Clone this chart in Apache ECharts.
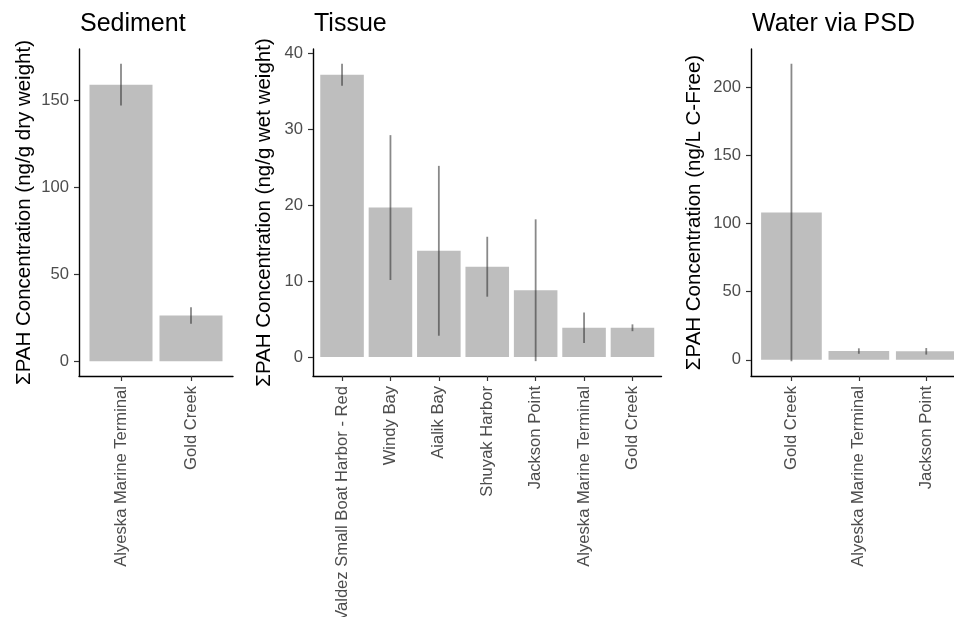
<!DOCTYPE html>
<html>
<head>
<meta charset="utf-8">
<script src="https://cdn.jsdelivr.net/npm/echarts@6/dist/echarts.min.js"></script>
<style>
  html, body { margin: 0; padding: 0; background: #ffffff; }
  #chart { width: 954px; height: 617px; }
</style>
</head>
<body>
<div id="chart"></div>
<script>
// Sum of PAH concentrations by site, mean and standard deviation per matrix
const sedimentSites = ['Alyeska Marine Terminal', 'Gold Creek'];
const sedimentMean = [159.2, 26.3];
const sedimentSd = [12.0, 4.8];

const tissueSites = ['Valdez Small Boat Harbor - Red', 'Windy Bay', 'Aialik Bay', 'Shuyak Harbor',
  'Jackson Point', 'Alyeska Marine Terminal', 'Gold Creek'];
const tissueMean = [37.2, 19.7, 14.0, 11.9, 8.8, 3.85, 3.85];
const tissueSd = [1.45, 9.55, 11.2, 3.95, 9.35, 2.0, 0.45];

const waterSites = ['Gold Creek', 'Alyeska Marine Terminal', 'Jackson Point'];
const waterMean = [108.0, 6.4, 6.2];
const waterSd = [109.0, 2.0, 2.4];

const sedimentTicks = [0, 50, 100, 150];
const tissueTicks = [0, 10, 20, 30, 40];
const waterTicks = [0, 50, 100, 150, 200];

const panelTitles = ['Sediment', 'Tissue', 'Water via PSD'];
const axisTitles = [
  'ΣPAH Concentration (ng/g dry weight)',
  'ΣPAH Concentration (ng/g wet weight)',
  'ΣPAH Concentration (ng/L C-Free)'
];

const FONT = '"Liberation Sans", Arial, Helvetica, sans-serif';

const panels = [
  { sites: sedimentSites, mean: sedimentMean, sd: sedimentSd, ticks: sedimentTicks,
    rect: { left: 79, top: 49, width: 154, height: 327 }, nameGap: 44 },
  { sites: tissueSites, mean: tissueMean, sd: tissueSd, ticks: tissueTicks,
    rect: { left: 313, top: 49, width: 348.5, height: 327 }, nameGap: 38 },
  { sites: waterSites, mean: waterMean, sd: waterSd, ticks: waterTicks,
    rect: { left: 751, top: 49, width: 215.7, height: 327 }, nameGap: 46 }
];

// y extent: bars from zero plus error bars, padded 5% on both ends
function yExtent(mean, sd) {
  let lo = 0, hi = 0;
  mean.forEach((m, i) => {
    lo = Math.min(lo, m - sd[i]);
    hi = Math.max(hi, m + sd[i]);
  });
  const pad = (hi - lo) * 0.05;
  return [lo - pad, hi + pad];
}

function renderBar(params, api) {
  const x = api.value(0);
  const m = api.value(1);
  const lo = api.value(2);
  const hi = api.value(3);
  const a = api.coord([x - 0.45, m]);
  const b = api.coord([x + 0.45, 0]);
  const e0 = api.coord([x, lo]);
  const e1 = api.coord([x, hi]);
  return {
    type: 'group',
    children: [
      { type: 'rect', shape: { x: a[0], y: a[1], width: b[0] - a[0], height: b[1] - a[1] },
        style: { fill: '#bebebe' } },
      { type: 'line', shape: { x1: e0[0], y1: e0[1], x2: e1[0], y2: e1[1] },
        style: { stroke: 'rgba(40,40,40,0.55)', lineWidth: 1.8 } }
    ]
  };
}

const grid = [], xAxis = [], yAxis = [], series = [], title = [];

panels.forEach((p, i) => {
  grid.push(Object.assign({ containLabel: false, outerBoundsMode: 'none' }, p.rect));
  const positions = p.sites.map((_, k) => k + 1);
  xAxis.push({
    type: 'value', gridIndex: i,
    min: 0.4, max: p.sites.length + 0.6,
    splitLine: { show: false },
    axisLine: { show: true, onZero: false, lineStyle: { color: '#000', width: 1.4 } },
    axisTick: { show: true, customValues: positions, length: 5, lineStyle: { color: '#333', width: 1.2 } },
    axisLabel: {
      customValues: positions, rotate: 90, margin: 10,
      color: '#4d4d4d', fontSize: 16.6, fontFamily: FONT,
      formatter: v => p.sites[Math.round(v) - 1] || ''
    }
  });
  const ext = yExtent(p.mean, p.sd);
  yAxis.push({
    type: 'value', gridIndex: i,
    min: ext[0], max: ext[1],
    name: axisTitles[i], nameLocation: 'middle', nameGap: p.nameGap,
    nameTextStyle: { color: '#000', fontSize: 20.5, fontFamily: FONT },
    splitLine: { show: false },
    axisLine: { show: true, onZero: false, lineStyle: { color: '#000', width: 1.4 } },
    axisTick: { show: true, customValues: p.ticks, length: 5, lineStyle: { color: '#333', width: 1.2 } },
    axisLabel: { customValues: p.ticks, margin: 10, color: '#4d4d4d', fontSize: 16.6, fontFamily: FONT }
  });
  series.push({
    type: 'custom', xAxisIndex: i, yAxisIndex: i,
    renderItem: renderBar,
    encode: { x: 0, y: [1, 2, 3] },
    data: p.mean.map((m, k) => [k + 1, m, m - p.sd[k], m + p.sd[k]]),
    silent: true
  });
  title.push({
    text: panelTitles[i], left: p.rect.left + 1, top: 12, padding: 0,
    textStyle: { color: '#000', fontSize: 25, fontWeight: 'normal', fontFamily: FONT }
  });
});

const chart = echarts.init(document.getElementById('chart'), null, { renderer: 'canvas' });
chart.setOption({
  animation: false,
  backgroundColor: '#ffffff',
  title, grid, xAxis, yAxis, series
});
</script>
</body>
</html>
